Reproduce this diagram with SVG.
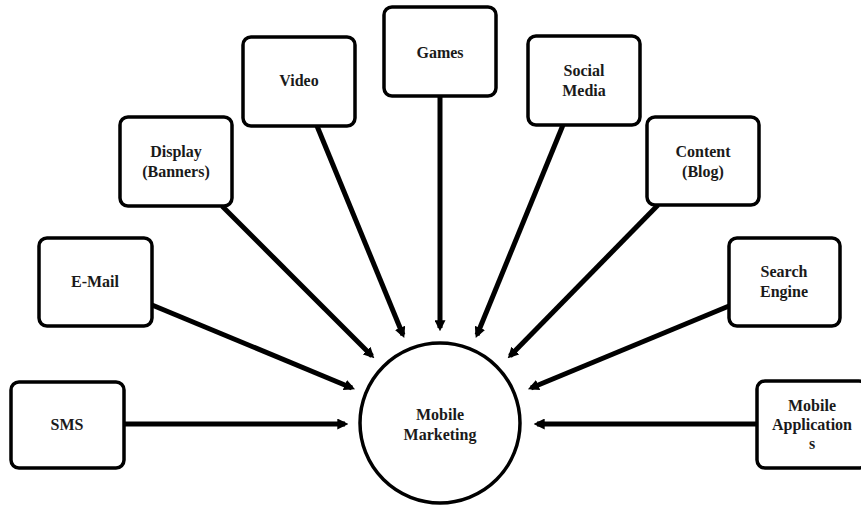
<svg xmlns="http://www.w3.org/2000/svg" width="861" height="506" viewBox="0 0 861 506">
<style>
.box{fill:#fff;stroke:#000;stroke-width:3.5}
.lbl{font-family:"Liberation Serif","Times New Roman",serif;font-weight:bold;font-size:16px;fill:#1a1a1a;text-anchor:middle}
.con{stroke:#000;stroke-width:5;fill:none;marker-end:url(#ah)}
</style>
<defs>
<marker id="ah" viewBox="0 0 10 10" refX="7" refY="5" markerWidth="2.2" markerHeight="2.2" orient="auto" markerUnits="strokeWidth">
<path d="M0,0 L10,5 L0,10 z" fill="#000"/>
</marker>
</defs>
<rect width="861" height="506" fill="#fff"/>
<g id="connectors">
<line class="con" x1="125" y1="424" x2="345" y2="424"/>
<line class="con" x1="152" y1="305" x2="352" y2="388"/>
<line class="con" x1="222" y1="206" x2="372" y2="356"/>
<line class="con" x1="317" y1="126" x2="403" y2="335"/>
<line class="con" x1="440" y1="96" x2="440" y2="328"/>
<line class="con" x1="563" y1="125" x2="477" y2="335"/>
<line class="con" x1="658" y1="205" x2="510" y2="356"/>
<line class="con" x1="729" y1="306" x2="531" y2="388"/>
<line class="con" x1="757" y1="424" x2="537" y2="424"/>
</g>
<g id="center">
<circle cx="440" cy="423" r="80" fill="#fff" stroke="#000" stroke-width="3.5"/>
<text class="lbl" x="440" y="420">Mobile</text>
<text class="lbl" x="440" y="440">Marketing</text>
</g>
<g id="sms">
<rect class="box" x="11" y="382" width="113" height="86" rx="8"/>
<text class="lbl" x="67" y="430">SMS</text>
</g>
<g id="email">
<rect class="box" x="39" y="238" width="113" height="88" rx="8"/>
<text class="lbl" x="95" y="287">E-Mail</text>
</g>
<g id="display">
<rect class="box" x="120" y="117" width="112" height="89" rx="8"/>
<text class="lbl" x="176" y="157">Display</text>
<text class="lbl" x="176" y="177">(Banners)</text>
</g>
<g id="video">
<rect class="box" x="243" y="37" width="112" height="89" rx="8"/>
<text class="lbl" x="299" y="86">Video</text>
</g>
<g id="games">
<rect class="box" x="384" y="7" width="112" height="89" rx="8"/>
<text class="lbl" x="440" y="58">Games</text>
</g>
<g id="social">
<rect class="box" x="528" y="36" width="112" height="89" rx="8"/>
<text class="lbl" x="584" y="76">Social</text>
<text class="lbl" x="584" y="96">Media</text>
</g>
<g id="content">
<rect class="box" x="647" y="117" width="112" height="88" rx="8"/>
<text class="lbl" x="703" y="157">Content</text>
<text class="lbl" x="703" y="177">(Blog)</text>
</g>
<g id="search">
<rect class="box" x="729" y="238" width="111" height="88" rx="8"/>
<text class="lbl" x="784" y="277">Search</text>
<text class="lbl" x="784" y="297">Engine</text>
</g>
<g id="mobileapps">
<rect class="box" x="757" y="381" width="110" height="87" rx="8"/>
<text class="lbl" x="812" y="411">Mobile</text>
<text class="lbl" x="812" y="430">Application</text>
<text class="lbl" x="812" y="449">s</text>
</g>
</svg>
